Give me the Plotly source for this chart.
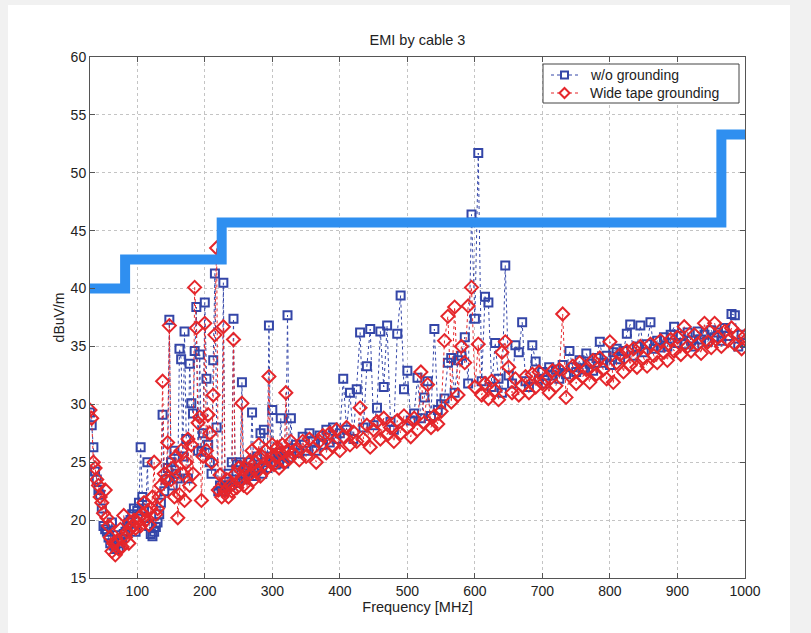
import numpy as np
import plotly.graph_objects as go

# Frequency grid (MHz): fine steps below 330 MHz, 5 MHz steps above
freq_low = np.arange(30.0, 330.01, 2.5)
freq_high = np.arange(335.0, 1000.01, 5.0)
freq = np.concatenate([freq_low, freq_high])

# w/o grounding (dBuV/m)
blue_low = [
    29.3, 28.2, 26.3, 24.2, 23.5, 22.6, 22.2, 21.0, 19.5, 19.2,
    19.0, 18.5, 18.0, 19.8, 17.8, 17.5, 18.7, 17.6, 18.0, 18.4,
    18.8, 19.0, 19.5, 19.8, 20.0, 20.5, 21.0, 19.0, 20.8, 21.5,
    26.3, 22.0, 21.0, 20.2, 25.0, 19.5, 18.8, 18.6, 19.0, 19.4,
    19.8, 20.5, 21.5, 29.1, 22.5, 23.5, 24.5, 37.3, 25.0, 23.0,
    26.0, 24.0, 23.6, 34.8, 33.9, 25.5, 36.3, 27.0, 23.6, 33.5,
    30.1, 29.2, 34.6, 38.4, 26.0, 34.3, 25.9, 27.5, 38.8, 32.2,
    26.5, 25.0, 24.0, 33.8, 41.3, 28.0, 22.5, 23.0, 22.5, 40.5,
    23.0, 22.8, 24.0, 23.0, 25.0, 37.4, 23.5, 24.8, 23.2, 25.0,
    31.9, 24.0, 23.5, 24.5, 23.8, 25.0, 29.3, 24.2, 23.8, 25.5,
    24.5, 27.5, 24.0, 27.8, 25.0, 24.5, 36.8, 25.5, 29.5, 25.0,
    24.8, 25.8, 25.2, 28.8, 25.5, 24.9, 26.0, 37.7, 25.4, 28.8,
    26.2,
]
blue_high = [
    26.5, 25.8, 27.2, 26.0, 27.5, 26.8, 26.0, 27.3, 26.5, 27.8,
    26.7, 28.0, 27.0, 27.5, 32.2, 27.8, 31.0, 27.0, 31.3, 36.2,
    28.0, 33.3, 36.5, 28.2, 29.7, 36.3, 31.5, 36.8, 28.5, 27.8,
    36.1, 39.4, 31.3, 32.9, 28.6, 29.2, 32.3, 28.8, 30.6, 32.0,
    29.0, 36.5, 29.5, 30.0, 30.5, 33.6, 34.0, 31.0, 33.8, 34.2,
    35.8, 31.8, 46.4, 37.4, 51.7, 32.0, 39.3, 38.8, 31.5, 35.3,
    32.2, 31.0, 42.0, 32.5, 31.8, 35.1, 34.5, 37.1, 32.0, 31.5,
    35.1, 33.7, 32.2, 32.8, 31.8, 33.2, 32.5, 33.0, 32.2, 33.4,
    32.6, 34.6, 33.2, 32.8, 33.8, 33.0, 34.4, 33.5, 32.9, 34.0,
    35.4, 33.6, 34.2, 33.4, 34.5, 34.8, 33.9, 34.6, 36.1, 36.9,
    34.2, 35.0, 36.8, 34.5, 35.2, 37.1, 34.8, 35.5, 34.9, 35.8,
    35.0, 36.0, 36.7, 35.3, 35.9, 35.2, 36.2, 35.5, 35.0, 36.3,
    35.6, 36.0, 35.4, 36.4, 35.8, 36.2, 35.5, 36.6, 35.9, 37.8,
    37.7, 35.0, 36.0, 35.3,
]

# Wide tape grounding (dBuV/m)
red_low = [
    29.5, 28.8, 25.0, 24.5, 23.5, 23.0, 22.0, 21.5, 20.6, 22.6,
    20.2, 19.5, 18.5, 17.3, 18.0, 17.0, 18.2, 17.5, 19.2, 17.7,
    20.4, 18.5, 19.0, 18.0, 19.2, 19.5, 20.0, 19.3, 19.8, 20.2,
    19.5, 20.5, 21.5, 20.0, 20.8, 19.6, 21.0, 22.0, 25.0, 20.5,
    21.0, 22.0, 23.0, 32.0, 24.0, 23.5, 26.7, 36.8, 23.5, 24.5,
    22.0, 25.5, 20.2, 22.2, 26.0, 24.0, 21.7, 25.0, 27.0, 23.0,
    26.5, 24.0, 40.1, 36.6, 28.4, 28.9, 21.7, 25.5, 37.0, 26.0,
    29.1, 27.5, 25.0, 30.8, 36.0, 43.5, 22.6, 23.9, 22.0, 36.7,
    22.5, 23.5, 22.0, 23.0, 22.5, 35.6, 24.0, 22.8, 24.5, 23.5,
    30.1, 23.0, 24.5, 22.8, 25.0, 24.0, 26.0, 23.5, 25.0, 24.2,
    26.5, 23.8, 25.5, 24.8, 26.0, 24.5, 32.4, 25.0, 26.5, 24.8,
    25.5, 26.3, 24.5, 25.8, 26.5, 25.0, 31.0, 26.0, 25.3, 26.8,
    25.8,
]
red_high = [
    26.0, 25.2, 26.8, 25.5, 27.0, 26.2, 25.0, 26.8, 27.3, 25.8,
    27.5, 26.4, 27.8, 26.0, 27.2, 28.0, 26.5, 27.6, 26.8, 29.7,
    27.0, 28.2, 26.3, 27.8, 28.5, 27.0, 28.8, 27.4, 28.0, 26.8,
    28.6, 27.5, 29.0, 28.0, 27.2, 28.8, 27.8, 32.8, 28.4, 31.7,
    28.0, 29.0, 28.3, 29.4, 35.5, 37.6, 30.2, 38.4, 30.8, 35.0,
    33.6, 38.5, 40.1, 31.5, 35.2, 30.8, 31.8, 30.5, 32.0, 31.2,
    30.4, 34.5, 35.4, 33.2, 31.0, 32.2, 30.8, 31.6, 32.4, 31.0,
    32.6, 31.5, 32.8, 31.8, 32.2, 31.0, 32.9, 31.6, 33.0, 37.8,
    30.6, 32.5, 33.3, 31.8, 33.6, 32.4, 33.0, 31.9, 33.8, 32.6,
    34.0, 33.0, 32.2, 35.4, 31.9, 33.6, 34.3, 32.8, 34.6, 33.4,
    34.8, 33.2, 35.0, 34.0, 33.3, 35.2, 34.2, 33.6, 35.5, 34.5,
    33.8, 35.6, 34.6, 35.8, 34.3, 36.7, 35.0, 34.6, 36.0, 35.2,
    34.4, 37.0, 35.4, 34.9, 37.0, 35.8, 35.0, 36.3, 35.5, 36.6,
    35.2, 36.0, 34.8, 35.9,
]

blue = blue_low + blue_high
red = red_low + red_high
assert len(blue) == len(freq) and len(red) == len(freq)

# Emission limit (step line)
limit_f = [30, 82, 225, 965, 1000]
limit_db = [40.0, 42.5, 45.7, 53.3, 53.3]

x_ticks = [100, 200, 300, 400, 500, 600, 700, 800, 900, 1000]
y_ticks = [15, 20, 25, 30, 35, 40, 45, 50, 55, 60]
series_names = ["w/o grounding", "Wide tape grounding"]

BLUE = "#3446a8"
RED = "#e5262b"
LIMIT = "#2f8ff0"
TXT = "#222222"
FONT = "Liberation Sans, Arial, Helvetica, sans-serif"

W, H = 811, 633
ML, MR, MT, MB = 90, 66, 57, 55
PW, PH = W - ML - MR, H - MT - MB


def px(xpix):
    return (xpix - ML) / PW


def py(ypix):
    return (H - MB - ypix) / PH


fig = go.Figure()
fig.add_trace(go.Scatter(
    x=freq, y=blue, name=series_names[0], mode="lines+markers", showlegend=False,
    line=dict(color=BLUE, width=1, dash="dot"),
    marker=dict(symbol="square-open", size=8, color=BLUE, line=dict(width=2, color=BLUE)),
))
fig.add_trace(go.Scatter(
    x=freq, y=red, name=series_names[1], mode="lines+markers", showlegend=False,
    line=dict(color=RED, width=1, dash="dot"),
    marker=dict(symbol="diamond-open", size=10, color=RED, line=dict(width=2, color=RED)),
))
fig.add_trace(go.Scatter(
    x=limit_f, y=limit_db, mode="lines", line_shape="hv", showlegend=False,
    line=dict(color=LIMIT, width=10), hoverinfo="skip",
))

axis_common = dict(
    showline=True, linecolor="#555555", linewidth=1, mirror="ticks",
    ticks="inside", ticklen=5, tickcolor="#555555",
    showgrid=True, gridcolor="#c4c4c4", griddash="dot", gridwidth=1,
    zeroline=False, tickfont=dict(size=14, color=TXT, family=FONT),
)

fig.update_xaxes(
    range=[30, 1000], tickvals=x_ticks, ticktext=[str(v) for v in x_ticks],
    title=dict(text="Frequency [MHz]", font=dict(size=14.5, color=TXT, family=FONT), standoff=4),
    **axis_common,
)
fig.update_yaxes(
    range=[15, 60], tickvals=y_ticks, ticktext=[str(v) for v in y_ticks],
    title=dict(text="dBuV/m", font=dict(size=14, color=TXT, family=FONT), standoff=2),
    **axis_common,
)

# Manual legend (box, sample lines, markers, labels)
shapes = [
    dict(type="rect", xref="paper", yref="paper", layer="below",
         x0=px(8), x1=px(790), y0=py(660), y1=py(5),
         fillcolor="white", line=dict(width=0)),
    dict(type="rect", xref="paper", yref="paper", layer="above",
         x0=px(543), x1=px(739), y0=py(103), y1=py(64),
         fillcolor="white", line=dict(color="#444444", width=1)),
]
annotations = []
entries = [(75, BLUE, "square"), (93, RED, "diamond")]
for (yc, col, sym), label in zip(entries, series_names):
    shapes.append(dict(type="line", xref="paper", yref="paper", layer="above",
                       x0=px(551), x1=px(578), y0=py(yc), y1=py(yc),
                       line=dict(color=col, width=1, dash="dot")))
    if sym == "square":
        shapes.append(dict(type="rect", xref="paper", yref="paper", layer="above",
                           x0=px(561), x1=px(568), y0=py(yc + 3.5), y1=py(yc - 3.5),
                           fillcolor="white", line=dict(color=col, width=2)))
    else:
        cx, r = 564.5, 5
        path = (f"M {px(cx - r)} {py(yc)} L {px(cx)} {py(yc - r)} "
                f"L {px(cx + r)} {py(yc)} L {px(cx)} {py(yc + r)} Z")
        shapes.append(dict(type="path", xref="paper", yref="paper", layer="above",
                           path=path, fillcolor="white", line=dict(color=col, width=2)))
    annotations.append(dict(text=label, xref="paper", yref="paper",
                            x=px(588), y=py(yc), xanchor="left", yanchor="middle",
                            showarrow=False,
                            font=dict(size=14, color=TXT, family=FONT)))

fig.update_layout(
    width=W, height=H,
    margin=dict(l=ML, r=MR, t=MT, b=MB),
    paper_bgcolor="#f1f1f1", plot_bgcolor="white",
    font=dict(family=FONT, color=TXT),
    title=dict(text="EMI by cable 3", x=0.5, xref="paper", xanchor="center",
               y=1 - 40 / H, yref="container", yanchor="middle",
               font=dict(size=14.5, color=TXT, family=FONT)),
    shapes=shapes,
    annotations=annotations,
    showlegend=False,
)

fig.write_html("out.html", config={"displayModeBar": False},
               post_script="document.body.style.margin='0px';")
